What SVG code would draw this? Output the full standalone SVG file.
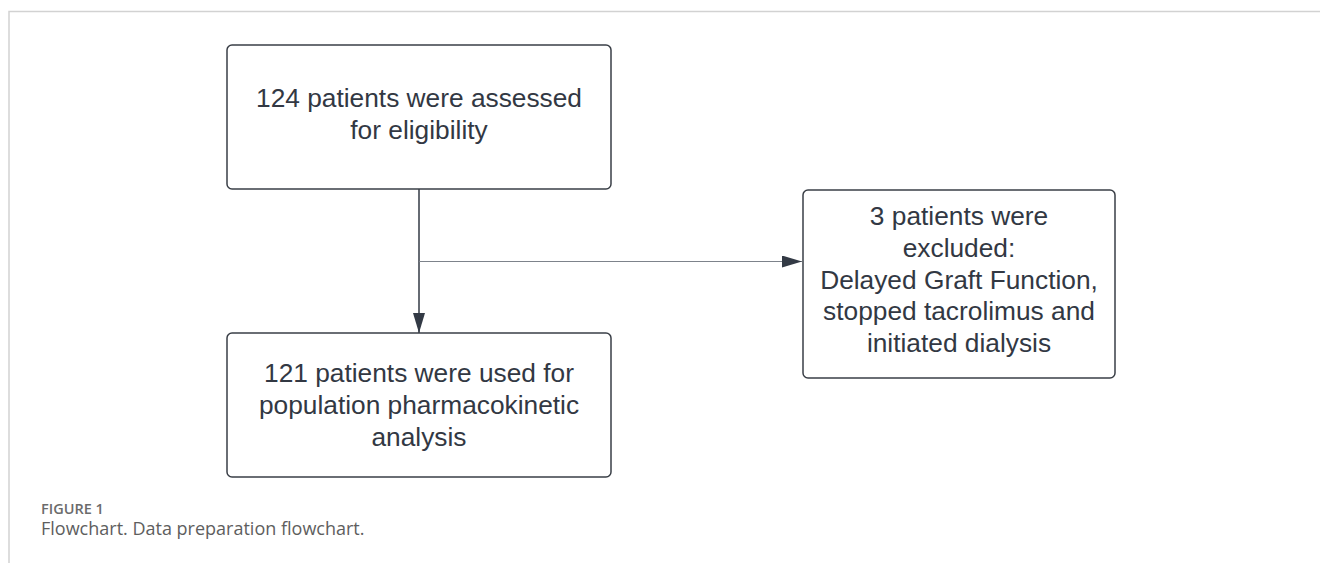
<svg xmlns="http://www.w3.org/2000/svg" width="1320" height="563" viewBox="0 0 1320 563">
<style>
.box{fill:#ffffff;stroke:#3a3f47;stroke-width:1.5}
.lbl{font-family:"Liberation Sans",Arial,sans-serif;font-size:26.3px;fill:#323843;text-anchor:middle}
.frame{stroke:#d2d2d2;stroke-width:1.5;fill:none}
.cap1{font-family:"Open Sans","Noto Sans",sans-serif;font-size:14.5px;font-weight:600;fill:#6b6b6b}
.cap2{font-family:"Open Sans","Noto Sans",sans-serif;font-size:18px;fill:#5e5e5e}
</style>
<defs>
<marker id="ah" viewBox="0 0 20 12" refX="20" refY="6" markerWidth="20" markerHeight="12" markerUnits="userSpaceOnUse" orient="auto">
<path d="M0,0 L20,6 L0,12 Z" fill="#333a45"/>
</marker>
</defs>
<rect width="1320" height="563" fill="#ffffff"/>
<g id="frame">
<path class="frame" d="M9,563 V11.5 H1320"/>
</g>
<g id="connectors">
<line x1="419" y1="189" x2="419" y2="333" stroke="#333a45" stroke-width="1.5" marker-end="url(#ah)"/>
<line x1="419" y1="261.5" x2="802" y2="261.5" stroke="#7d838b" stroke-width="1.2" marker-end="url(#ah)"/>
</g>
<g id="node1">
<rect class="box" x="227" y="45" width="384" height="144" rx="5"/>
<text class="lbl" x="419" y="107">124 patients were assessed</text>
<text class="lbl" x="419" y="139">for eligibility</text>
</g>
<g id="node2">
<rect class="box" x="227" y="333" width="384" height="144" rx="5"/>
<text class="lbl" x="419" y="382">121 patients were used for</text>
<text class="lbl" x="419" y="414">population pharmacokinetic</text>
<text class="lbl" x="419" y="446">analysis</text>
</g>
<g id="node3">
<rect class="box" x="803" y="190" width="312" height="188" rx="5"/>
<text class="lbl" x="959" y="225">3 patients were</text>
<text class="lbl" x="959" y="257">excluded:</text>
<text class="lbl" x="959" y="289">Delayed Graft Function,</text>
<text class="lbl" x="959" y="320">stopped tacrolimus and</text>
<text class="lbl" x="959" y="352">initiated dialysis</text>
</g>
<g id="caption">
<text class="cap1" x="41" y="514">FIGURE 1</text>
<text class="cap2" x="41" y="535">Flowchart. Data preparation flowchart.</text>
</g>
</svg>
